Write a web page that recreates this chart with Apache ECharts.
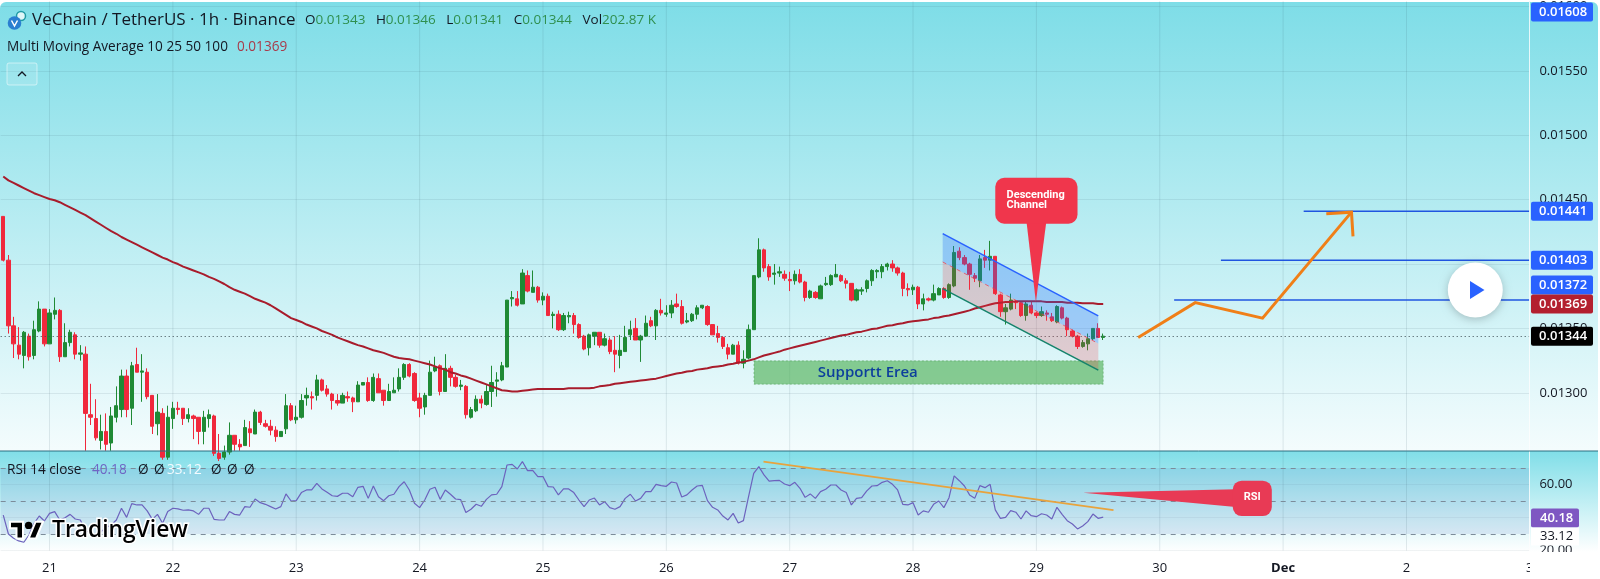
<!DOCTYPE html>
<html>
<head>
<meta charset="utf-8">
<style>
  html, body { margin: 0; padding: 0; background: #fff; }
  #chart { width: 1600px; height: 579px; }
</style>
<script src="https://cdn.jsdelivr.net/npm/echarts@6/dist/echarts.min.js"></script>
</head>
<body>
<div id="chart"></div>
<script>
// prices are in units of 0.00001 USDT
const opens = [
  1437,1403,1352,1337,1329,1344,1329,1348,1365,1338,
  1361,1364,1328,1339,1345,1330,1330,1283,1280,1263,
  1270,1261,1281,1287,1313,1288,1322,1316,1316,1298,
  1276,1284,1250,1280,1288,1288,1280,1282,1281,1270,
  1280,1282,1253,1250,1254,1267,1260,1259,1272,1268,
  1285,1276,1274,1271,1266,1272,1290,1279,1281,1296,
  1297,1298,1310,1303,1299,1294,1292,1297,1296,1293,
  1306,1308,1294,1311,1302,1294,1300,1303,1312,1322,
  1315,1296,1289,1298,1317,1321,1301,1319,1312,1305,
  1305,1281,1286,1295,1291,1301,1309,1310,1320,1373,
  1373,1369,1391,1378,1382,1372,1375,1360,1361,1349,
  1359,1360,1353,1344,1335,1344,1347,1337,1341,1333,
  1329,1332,1345,1350,1341,1344,1356,1352,1364,1361,
  1362,1369,1367,1355,1356,1361,1366,1367,1353,1346,
  1343,1335,1330,1337,1323,1327,1349,1390,1411,1398,
  1392,1393,1392,1388,1387,1392,1386,1374,1378,1373,
  1384,1384,1390,1391,1387,1385,1372,1379,1381,1387,
  1394,1394,1398,1400,1397,1393,1381,1380,1382,1369,
  1373,1372,1376,1381,1374,1383,1410,1405,1400,1391,
  1387,1405,1403,1406,1376,1363,1365,1371,1370,1360,
  1368,1362,1360,1362,1359,1355,1366,1358,1348,1344,
  1336,1338,1342,1350,1343
]
const highs = [
  1437,1407,1359,1351,1348,1346,1356,1371,1365,1365,
  1374,1365,1354,1349,1347,1337,1336,1307,1295,1283,
  1284,1289,1305,1318,1318,1324,1335,1330,1319,1298,
  1299,1288,1290,1293,1293,1288,1288,1283,1281,1286,
  1287,1283,1268,1259,1277,1267,1264,1279,1278,1287,
  1286,1279,1279,1274,1270,1299,1292,1290,1299,1304,
  1301,1314,1311,1306,1300,1299,1300,1301,1297,1309,
  1308,1312,1315,1315,1302,1307,1312,1319,1323,1323,
  1316,1300,1300,1325,1328,1322,1330,1321,1314,1310,
  1306,1289,1298,1298,1306,1321,1316,1324,1372,1379,
  1379,1396,1395,1395,1383,1378,1377,1363,1364,1362,
  1363,1362,1354,1345,1346,1347,1347,1346,1343,1344,
  1345,1352,1356,1358,1345,1360,1359,1365,1373,1368,
  1372,1377,1372,1362,1362,1368,1368,1368,1353,1352,
  1344,1338,1338,1340,1333,1353,1391,1420,1412,1400,
  1400,1398,1395,1394,1395,1396,1387,1380,1379,1384,
  1390,1392,1400,1392,1389,1385,1381,1382,1388,1396,
  1396,1400,1401,1403,1398,1394,1385,1384,1383,1377,
  1374,1384,1382,1382,1385,1414,1413,1407,1401,1393,
  1407,1411,1418,1406,1377,1369,1377,1372,1371,1371,
  1371,1363,1367,1364,1362,1368,1367,1359,1349,1345,
  1341,1346,1350,1354,1346
]
const lows = [
  1402,1346,1327,1326,1319,1325,1326,1347,1336,1338,
  1357,1324,1328,1336,1326,1325,1255,1275,1263,1256,
  1255,1255,1277,1281,1281,1275,1316,1293,1295,1268,
  1267,1248,1248,1272,1283,1275,1277,1264,1260,1260,
  1273,1251,1247,1248,1252,1255,1255,1259,1258,1268,
  1275,1273,1267,1262,1266,1268,1278,1276,1280,1290,
  1287,1294,1301,1297,1287,1290,1292,1293,1285,1293,
  1306,1293,1293,1300,1290,1294,1300,1301,1310,1312,
  1293,1281,1283,1298,1316,1298,1301,1305,1304,1302,
  1280,1280,1285,1288,1290,1289,1297,1309,1320,1367,
  1367,1369,1378,1378,1370,1368,1360,1350,1348,1348,
  1354,1346,1342,1333,1329,1337,1335,1336,1330,1316,
  1319,1332,1341,1341,1324,1344,1351,1341,1360,1359,
  1358,1366,1353,1354,1355,1357,1365,1352,1345,1339,
  1334,1326,1330,1322,1319,1326,1349,1389,1394,1387,
  1384,1390,1387,1379,1384,1385,1371,1373,1373,1373,
  1383,1383,1390,1386,1381,1371,1371,1376,1378,1383,
  1389,1389,1395,1394,1391,1375,1375,1376,1365,1364,
  1371,1371,1376,1373,1373,1382,1403,1399,1380,1386,
  1382,1397,1395,1376,1359,1353,1364,1365,1359,1356,
  1361,1358,1359,1356,1355,1354,1357,1344,1343,1334,
  1335,1333,1341,1343,1341
]
const closes = [
  1403,1352,1338,1330,1347,1328,1349,1365,1338,1362,
  1364,1328,1339,1347,1330,1331,1284,1281,1265,1270,
  1260,1282,1290,1313,1287,1321,1316,1317,1297,1274,
  1285,1250,1281,1288,1287,1280,1283,1280,1270,1281,
  1283,1253,1249,1254,1267,1260,1258,1273,1269,1285,
  1277,1274,1271,1266,1270,1290,1279,1281,1294,1298,
  1296,1310,1302,1299,1294,1292,1298,1296,1293,1306,
  1308,1294,1312,1300,1294,1301,1302,1312,1322,1313,
  1294,1288,1298,1316,1320,1301,1319,1312,1305,1306,
  1283,1287,1295,1292,1301,1308,1310,1321,1372,1374,
  1368,1393,1379,1382,1372,1375,1360,1361,1349,1360,
  1360,1353,1343,1334,1345,1347,1337,1342,1332,1330,
  1333,1343,1349,1341,1344,1354,1352,1364,1362,1362,
  1368,1367,1354,1356,1361,1366,1368,1353,1345,1343,
  1336,1330,1337,1323,1326,1349,1391,1411,1397,1390,
  1393,1394,1389,1387,1392,1386,1374,1379,1374,1383,
  1385,1391,1392,1387,1385,1372,1380,1380,1387,1395,
  1395,1398,1400,1397,1393,1381,1380,1382,1369,1373,
  1372,1377,1381,1374,1384,1409,1405,1400,1392,1389,
  1404,1403,1406,1377,1363,1366,1372,1370,1360,1369,
  1362,1360,1363,1361,1356,1367,1358,1349,1344,1336,
  1339,1342,1350,1343,1344
]
const ma100 = [
  1468,1465,1463,1461,1459,1457,1455,1453.5,1452,1450.5,
  1449.5,1448,1446,1444,1442,1440,1438,1435.5,1433,1430.5,
  1428,1425.5,1423.5,1421,1419,1417,1415,1413,1411,1409,
  1407,1405,1403.5,1401.5,1400,1398,1396.5,1395,1393.5,1392,
  1390,1388.5,1386.5,1384.5,1382,1380,1378.5,1377,1375,1373,
  1371.5,1370,1368,1365.5,1363,1360.5,1358,1356.5,1355,1353,
  1351.5,1350,1348,1346.5,1345,1343,1341.5,1340,1338.5,1337,
  1336,1334.5,1333,1332,1331,1329.5,1328,1327,1326.5,1326,
  1325,1324,1323,1322,1320.5,1319,1318,1316,1315,1313.5,
  1312.5,1311,1309.5,1308,1306.5,1305,1303.5,1302,1301.5,1301,
  1301,1301.5,1302,1302.5,1303,1303,1303,1303,1303,1303,
  1303.5,1303.5,1303.5,1303.5,1303.5,1304,1305,1305.5,1306,1307,
  1307.5,1308,1308.5,1309,1309.5,1310,1310.5,1311,1312,1313,
  1314,1315,1315.5,1316.5,1317,1318,1318.5,1319,1320,1320.5,
  1321,1322,1322.5,1323.5,1324,1325,1326,1327.5,1329,1330,
  1331,1332,1333.5,1334.5,1335.5,1336.5,1337.5,1338.5,1339.5,1340.5,
  1341.5,1342.5,1343.5,1344.5,1345,1346,1347,1347.5,1348.5,1349.5,
  1350,1351,1352,1352.5,1353.5,1354,1355,1355.5,1356,1356.5,
  1357,1358,1358.5,1359.5,1360,1361,1362,1363,1364,1365.5,
  1366.5,1367.5,1368.5,1369.5,1370,1370.5,1370.5,1371,1371,1371,
  1371,1371,1371,1370.5,1370.5,1370.5,1370.5,1370,1370,1370,
  1369.5,1369.5,1369.5,1369,1369
]
const rsi14 = [
  41.5,30,27.4,25.8,25,29.4,36.5,40.9,37.9,42.5,
  43.6,38.5,39.9,41.9,39.1,38.5,31.8,31,29.4,31.4,
  33.9,35.5,38.5,45.6,40.1,48.4,47.6,47.6,44,38.9,
  41.9,36.5,43.6,45.6,45.2,44.4,44.6,44,41.9,45.6,
  45.6,38.9,38.5,38.5,43.6,41.9,41.5,46.6,46.2,51.2,
  49,48,46.6,45.2,46.6,54.3,50,50.2,55.1,56.7,
  56.7,60.7,57.3,55.3,53.2,52.8,54.7,54.7,52.6,58.3,
  58.9,51.6,59.1,52.6,50.2,53.2,54.1,58.7,61.7,56.7,
  48.6,46,50.6,57.1,58.3,51,56.7,54.1,51.2,50.8,
  43,45,48,46.8,51,53.7,54.1,58.7,71.8,72.2,
  69.4,73.9,68.4,68.6,64.8,64.8,58.7,58.5,53.7,57.3,
  57.3,55.1,50.6,46.6,50.6,51.8,47.6,49.6,46,45,
  46.6,51.6,54.1,50,51.6,55.7,55.7,60.1,59.3,58.9,
  61.5,60.9,52.4,53.7,56.7,59.1,59.5,50.2,46.2,44.6,
  40.9,38.5,42.5,36.7,38.1,52.6,66.8,70.8,65.8,62.1,
  62.3,62.5,60.3,59.3,61.3,57.7,52.2,54.3,51.6,55.7,
  57.1,59.7,59.7,56.7,55.1,47.6,51.6,52,56.1,59.1,
  59.3,61.3,62.3,60.1,56.7,48,47.6,49,41.5,44,
  43.2,48,50,46,52,65.2,62.3,59.1,53.7,51.6,
  59.3,58.1,60.1,44.6,39.5,40.1,44.2,43.2,39.1,44,
  41.1,40.5,42.3,41.5,39.1,46.2,41.9,38.1,36.1,33.1,
  34.9,37.5,42.1,39.5,40.18
]
const dayLabels = ['21', '22', '23', '24', '25', '26', '27', '28', '29', '30', 'Dec', '2', '3']
const priceTicks = [1300, 1350, 1400, 1450, 1500, 1550, 1600]
const rsiTicks = [20, 40, 60]
const levelPrices = [1441, 1403, 1372]
const levelStarts = [253, 236.9, 227.8]
const arrowPath = [[220.8, 1343], [231.9, 1370], [245, 1358], [262.3, 1440.3]]
const arrowHead = [[257.4, 1439], [262.3, 1440.3], [262.6, 1421.5]]
const channelTop = [[182.77, 1423.6], [213.04, 1359.7]]
const channelMid = [[182.77, 1401.6], [213.04, 1338.3]]
const channelBottom = [[182.77, 1380.9], [213.04, 1317.6]]
const supportZone = [[146.05, 1324.8], [214, 1306.7]]
const rsiTrend = [[147.9, 73.8], [216, 44.5]]

const FIRST_DAY_INDEX = 9
const HOURS_PER_DAY = 24
const SLOT_COUNT = 298
const LAST_PRICE = 1344
const UP = '#1f8a35'
const DOWN = '#f0283c'
const CALLOUT = '#f0364c'
const FONT = '"Open Sans", sans-serif'
const INK = '#131722'

const categories = []
for (let i = 0; i < SLOT_COUNT; i++) {
  const day = (i - FIRST_DAY_INDEX) / HOURS_PER_DAY
  categories.push(Number.isInteger(day) && day >= 0 ? dayLabels[day] : '')
}
const dayIndexes = dayLabels.map((_, k) => [FIRST_DAY_INDEX + k * HOURS_PER_DAY, 0])
const candles = opens.map((o, i) => [o, closes[i], lows[i], highs[i]])
const mainBg = ['#7edde7', '#f4fcfd']
const rsiBg = ['#80dee8', '#ffffff']

function vGradient(stops) {
  return new echarts.graphic.LinearGradient(0, 0, 0, 1, [
    { offset: 0, color: stops[0] },
    { offset: 1, color: stops[1] }
  ])
}

// the x axis is a category axis and rounds fractions, so the part after the hour is added by hand
function pointAt(api, pair) {
  const whole = Math.floor(pair[0])
  const pt = api.coord([whole, pair[1]])
  return [pt[0] + (pair[0] - whole) * api.size([1, 0])[0], pt[1]]
}

function renderDayLine(params, api) {
  const isMain = params.seriesName === 'days'
  const top = api.coord([api.value(0), isMain ? 1604 : 80])
  const bottom = api.coord([api.value(0), isMain ? 1255 : 20])
  return {
    type: 'line',
    shape: { x1: top[0], y1: top[1], x2: bottom[0], y2: bottom[1] },
    style: { stroke: 'rgba(50,80,95,0.12)', lineWidth: 1 }
  }
}

function polyLine(api, pairs, stroke, lineWidth, extra) {
  return {
    type: 'polyline',
    shape: { points: pairs.map((p) => pointAt(api, p)) },
    style: Object.assign({ stroke, lineWidth, fill: null }, extra || {})
  }
}

function band(api, a, b, fill) {
  return {
    type: 'polygon',
    shape: { points: [a[0], a[1], b[1], b[0]].map((p) => pointAt(api, p)) },
    style: { fill }
  }
}

function callout(api, corners, tail, fill) {
  const a = pointAt(api, corners[0])
  const b = pointAt(api, corners[1])
  return [
    { type: 'polygon', shape: { points: tail.map((p) => pointAt(api, p)) }, style: { fill } },
    {
      type: 'rect',
      shape: { x: a[0], y: a[1], width: b[0] - a[0], height: b[1] - a[1], r: 9 },
      style: { fill }
    }
  ]
}

function renderDrawings(params, api) {
  const children = []
  const zoneA = pointAt(api, supportZone[0])
  const zoneB = pointAt(api, supportZone[1])
  children.push({
    type: 'rect',
    shape: { x: zoneA[0], y: zoneA[1], width: zoneB[0] - zoneA[0], height: zoneB[1] - zoneA[1] },
    style: { fill: 'rgba(76,175,80,0.62)', stroke: 'rgba(56,142,60,0.4)', lineWidth: 1, lineDash: [2, 2] }
  })
  const zoneLabel = pointAt(api, [168.2, 1315.7])
  children.push({
    type: 'text',
    x: zoneLabel[0],
    y: zoneLabel[1],
    style: {
      text: 'Supportt Erea',
      fill: '#0d3f9c',
      font: '600 15px ' + FONT,
      textAlign: 'center',
      textVerticalAlign: 'middle'
    }
  })
  children.push(band(api, channelTop, channelMid, 'rgba(33,110,250,0.3)'))
  children.push(band(api, channelMid, channelBottom, 'rgba(242,54,69,0.22)'))
  children.push(polyLine(api, channelTop, '#2962ff', 1.5))
  children.push(polyLine(api, channelMid, 'rgba(242,54,69,0.7)', 1, { lineDash: [4, 4] }))
  children.push(polyLine(api, channelBottom, '#14836b', 1.5))
  levelPrices.forEach((price, i) => {
    children.push(polyLine(api, [[levelStarts[i], price], [297.5, price]], '#1f55e0', 1.5))
  })
  children.push(polyLine(api, arrowPath, '#f07f17', 3))
  children.push(polyLine(api, arrowHead, '#f07f17', 3))
  callout(api, [[193, 1467], [209, 1431.3]], [[199.1, 1432], [202.9, 1432], [200.9, 1370.5]], CALLOUT)
    .forEach((el) => children.push(el))
  const noteAt = pointAt(api, [195.2, 1449.4])
  children.push({
    type: 'text',
    x: noteAt[0],
    y: noteAt[1],
    style: {
      text: 'Descending\nChannel',
      fill: '#fff',
      font: 'bold 11px Roboto, sans-serif',
      lineHeight: 10,
      textAlign: 'left',
      textVerticalAlign: 'middle'
    }
  })
  return { type: 'group', children }
}

function renderRsiDrawings(params, api) {
  const children = [polyLine(api, rsiTrend, '#e8a33d', 1.8)]
  callout(api, [[239.2, 62.3], [246.8, 40.9]], [[239.8, 57.1], [239.8, 46.4], [210.1, 55]], '#e83a55')
    .forEach((el) => children.push(el))
  const noteAt = pointAt(api, [243, 52.2])
  children.push({
    type: 'text',
    x: noteAt[0],
    y: noteAt[1],
    style: {
      text: 'RSI',
      fill: '#fff',
      font: 'bold 11px Roboto, sans-serif',
      textAlign: 'center',
      textVerticalAlign: 'middle'
    }
  })
  return { type: 'group', children }
}

const priceTags = [
  { value: [0, 1608], color: '#2962ff', nudge: 0 },
  { value: [0, 1441], color: '#2962ff', nudge: 0 },
  { value: [0, 1403], color: '#2962ff', nudge: 0 },
  { value: [0, 1372], color: '#2962ff', nudge: -15 },
  { value: [0, 1369], color: '#b3202f', nudge: 0 },
  { value: [0, LAST_PRICE], color: '#000000', nudge: 0 }
]

function renderTag(params, api) {
  const tag = priceTags[params.dataIndex]
  const y = Math.max(12, api.coord([0, api.value(1)])[1] + tag.nudge)
  return {
    type: 'group',
    children: [
      {
        type: 'rect',
        shape: { x: 1531, y: y - 9.5, width: 62, height: 19, r: 2 },
        style: { fill: tag.color }
      },
      {
        type: 'text',
        x: 1539,
        y,
        style: {
          text: (api.value(1) / 1e5).toFixed(5),
          fill: '#fff',
          font: '600 13px ' + FONT,
          textVerticalAlign: 'middle'
        }
      }
    ]
  }
}

function label(x, y, text, size, fill, weight) {
  return {
    type: 'text',
    x,
    y,
    z: 120,
    style: {
      text,
      fill,
      font: (weight || 'normal') + ' ' + size + 'px ' + FONT,
      textVerticalAlign: 'middle'
    }
  }
}

const chart = echarts.init(document.getElementById('chart'), null, { renderer: 'canvas' })

chart.setOption({
  animation: false,
  backgroundColor: '#ffffff',
  grid: [
    { left: 0.7, top: 0, width: 1531.7, height: 451 },
    { left: 0.7, top: 451, width: 1531.7, height: 101 }
  ],
  xAxis: [
    {
      type: 'category',
      gridIndex: 0,
      data: categories,
      axisLine: { show: false },
      axisTick: { show: false },
      axisLabel: { show: false },
      splitLine: { show: false }
    },
    {
      type: 'category',
      gridIndex: 1,
      data: categories,
      axisLine: { show: false },
      axisTick: { show: false },
      splitLine: { show: false },
      axisLabel: {
        interval: 0,
        margin: 10,
        color: INK,
        fontSize: 13,
        fontFamily: FONT,
        hideOverlap: false,
        formatter: (value) => (value === 'Dec' ? '{b|Dec}' : value),
        rich: { b: { fontWeight: 'bold', fontSize: 13, color: INK, fontFamily: FONT } }
      }
    }
  ],
  yAxis: [
    {
      type: 'value',
      gridIndex: 0,
      position: 'right',
      min: 1254.8,
      max: 1604.4,
      axisLine: { show: false },
      axisTick: { show: false, customValues: priceTicks },
      splitLine: { show: true, lineStyle: { color: 'rgba(50,80,95,0.1)' } },
      axisLabel: {
        customValues: priceTicks,
        margin: 7,
        color: INK,
        fontSize: 13,
        fontFamily: FONT,
        formatter: (value) => (value / 1e5).toFixed(5)
      }
    },
    {
      type: 'value',
      gridIndex: 1,
      position: 'right',
      min: 19.1,
      max: 80.3,
      axisLine: { show: false },
      axisTick: { show: false, customValues: rsiTicks },
      splitLine: { show: true, lineStyle: { color: 'rgba(50,80,95,0.07)' } },
      axisLabel: {
        customValues: rsiTicks,
        margin: 7,
        color: INK,
        fontSize: 13,
        fontFamily: FONT,
        formatter: (value) => value.toFixed(2)
      }
    }
  ],
  series: [
    {
      type: 'custom',
      name: 'days',
      coordinateSystem: 'cartesian2d',
      xAxisIndex: 0,
      yAxisIndex: 0,
      z: 1,
      silent: true,
      data: dayIndexes,
      renderItem: renderDayLine
    },
    {
      type: 'candlestick',
      name: 'VET/USDT',
      xAxisIndex: 0,
      yAxisIndex: 0,
      barWidth: 3.8,
      z: 2,
      data: candles,
      itemStyle: { color: UP, color0: DOWN, borderColor: UP, borderColor0: DOWN, borderWidth: 1 },
      markLine: {
        silent: true,
        symbol: 'none',
        label: { show: false },
        lineStyle: { color: '#3a4a50', width: 1, type: [1, 3] },
        data: [{ yAxis: LAST_PRICE }]
      }
    },
    {
      type: 'line',
      name: 'MA 100',
      xAxisIndex: 0,
      yAxisIndex: 0,
      z: 3,
      showSymbol: false,
      data: ma100,
      lineStyle: { color: '#a81c2c', width: 2 }
    },
    {
      type: 'custom',
      name: 'drawings',
      coordinateSystem: 'cartesian2d',
      xAxisIndex: 0,
      yAxisIndex: 0,
      z: 5,
      silent: true,
      data: [[0, 1300]],
      renderItem: renderDrawings
    },
    {
      type: 'custom',
      name: 'price tags',
      coordinateSystem: 'cartesian2d',
      xAxisIndex: 0,
      yAxisIndex: 0,
      z: 100,
      silent: true,
      clip: false,
      data: priceTags,
      renderItem: renderTag
    },
    {
      type: 'custom',
      name: 'rsi days',
      coordinateSystem: 'cartesian2d',
      xAxisIndex: 1,
      yAxisIndex: 1,
      z: 1,
      silent: true,
      data: dayIndexes,
      renderItem: renderDayLine
    },
    {
      type: 'line',
      name: 'RSI 14',
      xAxisIndex: 1,
      yAxisIndex: 1,
      z: 3,
      showSymbol: false,
      data: rsi14,
      lineStyle: { color: '#6c62bd', width: 1.2 },
      markArea: {
        silent: true,
        itemStyle: { color: 'rgba(60,90,180,0.11)' },
        data: [[{ yAxis: 70 }, { yAxis: 30 }]]
      },
      markLine: {
        silent: true,
        symbol: 'none',
        label: { show: false },
        lineStyle: { color: '#7c8c9a', width: 1, type: [5, 5] },
        data: [{ yAxis: 70 }, { yAxis: 50 }, { yAxis: 30 }]
      }
    },
    {
      type: 'custom',
      name: 'rsi drawings',
      coordinateSystem: 'cartesian2d',
      xAxisIndex: 1,
      yAxisIndex: 1,
      z: 5,
      silent: true,
      data: [[0, 50]],
      renderItem: renderRsiDrawings
    }
  ],
  graphic: [
    // pane backgrounds
    { type: 'rect', z: -2, shape: { x: 0, y: 2, width: 1598, height: 449, r: [6, 6, 0, 0] }, style: { fill: vGradient(mainBg) } },
    { type: 'rect', z: -2, shape: { x: 0, y: 451, width: 1598, height: 101 }, style: { fill: vGradient(rsiBg) } },
    { type: 'rect', z: 90, shape: { x: 1529.5, y: 2, width: 4, height: 449 }, style: { fill: vGradient(mainBg) } },
    { type: 'rect', z: 90, shape: { x: 1529.5, y: 451, width: 4, height: 101 }, style: { fill: vGradient(rsiBg) } },
    { type: 'rect', z: 10, shape: { x: 1530, y: 552, width: 70, height: 27 }, style: { fill: '#fff' } },
    { type: 'line', z: 91, shape: { x1: 1529.5, y1: 2, x2: 1529.5, y2: 552 }, style: { stroke: 'rgba(255,255,255,0.8)', lineWidth: 1 } },
    { type: 'line', z: 91, shape: { x1: 0, y1: 451, x2: 1598, y2: 451 }, style: { stroke: '#2c6f80', lineWidth: 1 } },

    // coin icon and legend
    { type: 'circle', z: 120, shape: { cx: 21, cy: 16, r: 4.5 }, style: { fill: '#dff6f8', stroke: '#1f9aa5', lineWidth: 1.5 } },
    { type: 'circle', z: 121, shape: { cx: 14.5, cy: 23, r: 6.8 }, style: { fill: '#2a7fd0' } },
    { type: 'polyline', z: 122, shape: { points: [[11.5, 20.5], [14.5, 26], [17.5, 20.5]] }, style: { stroke: '#fff', lineWidth: 1.5, fill: null } },
    label(32, 20.5, 'VeChain / TetherUS · 1h · Binance', 17, INK),
    {
      type: 'text',
      x: 305,
      y: 20.5,
      z: 120,
      style: {
        text: 'O{g|0.01343}   H{g|0.01346}   L{g|0.01341}   C{g|0.01344}   Vol{g|202.87 K}',
        fill: INK,
        font: '13.5px ' + FONT,
        textVerticalAlign: 'middle',
        rich: { g: { fill: '#2f8f4e', font: '13.5px ' + FONT } }
      }
    },
    label(7, 47, 'Multi Moving Average 10 25 50 100', 13.6, INK),
    label(237, 47, '0.01369', 13.6, '#a83a4a'),
    {
      type: 'rect',
      z: 120,
      shape: { x: 7, y: 63, width: 30, height: 22, r: 2 },
      style: { fill: 'rgba(255,255,255,0.12)', stroke: 'rgba(255,255,255,0.5)', lineWidth: 1 }
    },
    { type: 'polyline', z: 121, shape: { points: [[18, 76], [22, 72], [26, 76]] }, style: { stroke: INK, lineWidth: 1.3, fill: null } },

    // play button
    {
      type: 'circle',
      z: 110,
      shape: { cx: 1475.3, cy: 290, r: 27.5 },
      style: { fill: '#fff', shadowBlur: 8, shadowColor: 'rgba(0,0,0,0.22)', shadowOffsetY: 2 }
    },
    {
      type: 'polygon',
      z: 111,
      shape: { points: [[1470, 281], [1484.5, 290], [1470, 299]] },
      style: { fill: '#2962ff' }
    },

    // rsi legend
    label(7, 470, 'RSI 14 close', 13.6, INK),
    label(92, 470, '40.18', 13.6, '#6f66c4'),
    label(138, 470, 'Ø', 13.6, INK),
    label(154, 470, 'Ø', 13.6, INK),
    label(167, 470, '33.12', 13.6, '#f4fbff'),
    label(211, 470, 'Ø', 13.6, INK),
    label(227, 470, 'Ø', 13.6, INK),
    label(244, 470, 'Ø', 13.6, INK),

    // rsi scale tags
    { type: 'rect', z: 100, shape: { x: 1531, y: 508.5, width: 48, height: 19, r: 2 }, style: { fill: '#7e57c2' } },
    label(1540, 518, '40.18', 13, '#fff', 600),
    { type: 'rect', z: 100, shape: { x: 1531, y: 527.5, width: 48, height: 18 }, style: { fill: '#fff' } },
    label(1540, 536.7, '33.12', 13, INK),

    // watermark
    {
      type: 'polygon',
      z: 130,
      shape: { points: [[10, 521.7], [23, 521.7], [23, 538.5], [16.5, 538.5], [16.5, 528.2], [10, 528.2]] },
      style: { fill: '#000', stroke: '#fff', lineWidth: 2 }
    },
    {
      type: 'polygon',
      z: 130,
      shape: { points: [[28.6, 538.5], [35.6, 521.7], [43, 521.7], [36, 538.5]] },
      style: { fill: '#000', stroke: '#fff', lineWidth: 2 }
    },
    { type: 'circle', z: 130, shape: { cx: 28.6, cy: 525.4, r: 3.7 }, style: { fill: '#000' } },
    {
      type: 'text',
      z: 130,
      x: 52,
      y: 531,
      style: {
        text: 'TradingView',
        fill: '#000',
        font: '600 22.8px ' + FONT,
        stroke: '#fff',
        lineWidth: 3,
        textVerticalAlign: 'middle'
      }
    }
  ]
})
</script>
</body>
</html>
